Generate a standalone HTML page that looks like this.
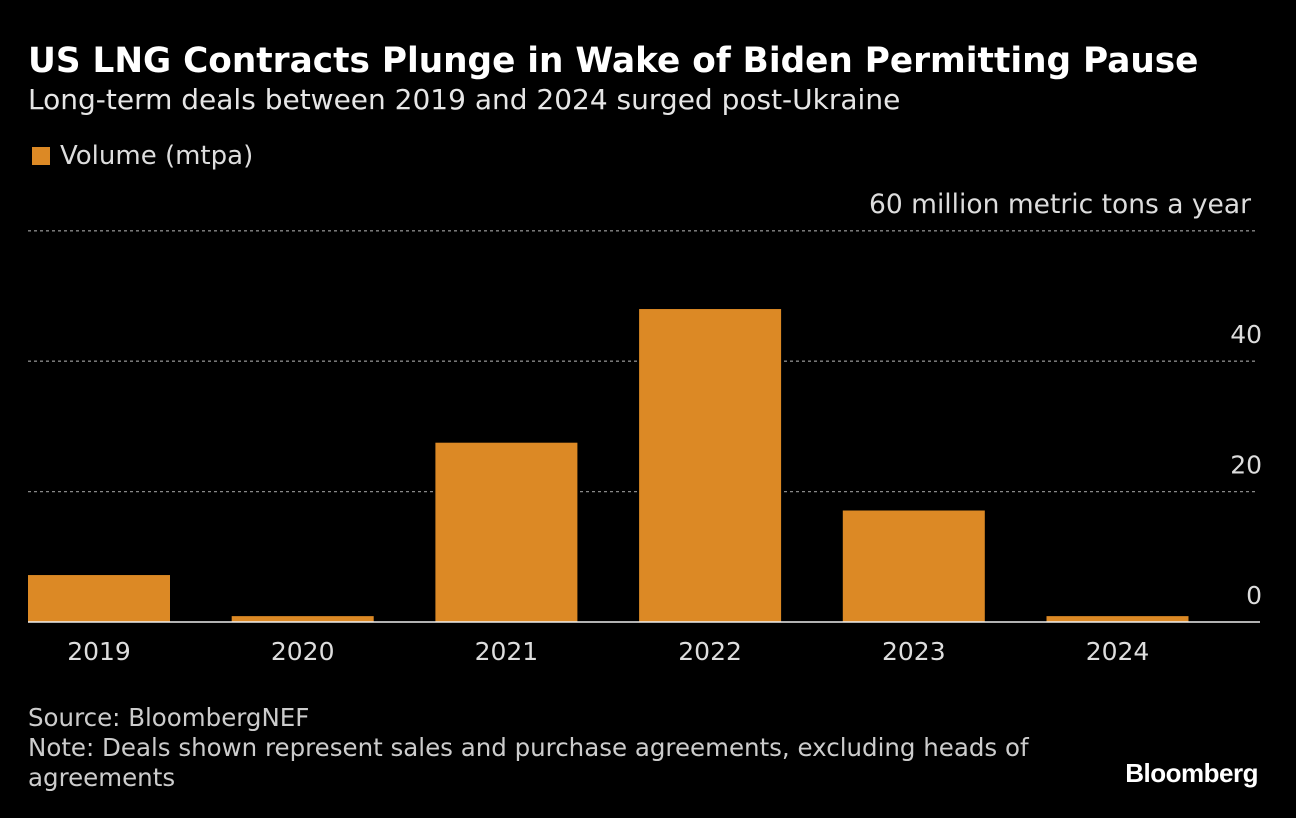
<!DOCTYPE html>
<html><head><meta charset="utf-8"><style>
html,body{margin:0;padding:0;background:#000;}
body{width:1296px;height:818px;position:relative;overflow:hidden;font-family:"DejaVu Sans",sans-serif;color:#fff;}
.abs{position:absolute;white-space:nowrap;}
</style></head><body>
<div class="abs" style="left:28px;top:41px;font-size:34.3px;font-weight:bold;">US LNG Contracts Plunge in Wake of Biden Permitting Pause</div>
<div class="abs" style="left:28px;top:83px;font-size:28px;color:#e6e6e6;">Long-term deals between 2019 and 2024 surged post-Ukraine</div>
<div class="abs" style="left:32px;top:141px;font-size:26px;color:#ddd;"><span style="display:inline-block;width:18px;height:18px;background:#dc8925;margin-right:10px;vertical-align:-1px;"></span>Volume (mtpa)</div>
<svg id="chart" width="1296" height="818" style="position:absolute;left:0;top:0;"></svg>
<div class="abs" style="left:28px;top:703px;font-size:24.5px;color:#ccc;line-height:30px;">Source: BloombergNEF<br>Note: Deals shown represent sales and purchase agreements, excluding heads of<br>agreements</div>
<div class="abs" style="right:38px;top:758px;font-size:26px;font-weight:bold;letter-spacing:-0.5px;font-family:'Liberation Sans',sans-serif;">Bloomberg</div>
<script>
const categories=["2019","2020","2021","2022","2023","2024"];
const volumes=[7.2,0.9,27.5,48,17.1,0.9];
const ticks=[0,20,40,60];
const tickLabels=["0","20","40","60 million metric tons a year"];
const svg=document.getElementById('chart');
const NS="http://www.w3.org/2000/svg";
const y0=622,pxPer=6.52,left=28,right=1258,step=203.7,bw=142;
const y=v=>y0-v*pxPer;
const x=i=>left+i*step;
function mk(t,a){const e=document.createElementNS(NS,t);for(const k in a)e.setAttribute(k,a[k]);svg.appendChild(e);return e;}
ticks.forEach((t,i)=>{
  if(t!==0){const g=mk('line',{x1:left,x2:right,y1:y(t),y2:y(t),stroke:'#888','stroke-dasharray':'3,3','stroke-width':1.3});
  
  }
  const l=mk('text',{x:t===60?1251:1262,y:y(t)-18,'text-anchor':'end',fill:'#ddd','font-size':t===60?26.5:25,'font-family':'DejaVu Sans, sans-serif'});
  l.textContent=tickLabels[i];
  
  
});
volumes.forEach((v,i)=>{
  const r=mk('rect',{x:x(i),y:y(v),width:bw,height:y0-y(v),fill:'#dc8925'});
  
  
  const t=mk('text',{x:x(i)+bw/2,y:660,'text-anchor':'middle',fill:'#ddd','font-size':25,'font-family':'DejaVu Sans, sans-serif'});
  t.textContent=categories[i];
  
  
});
const ax=mk('line',{x1:left,x2:right+2,y1:y0,y2:y0,stroke:'#eee','stroke-width':1.5});


</script>
</body></html>
